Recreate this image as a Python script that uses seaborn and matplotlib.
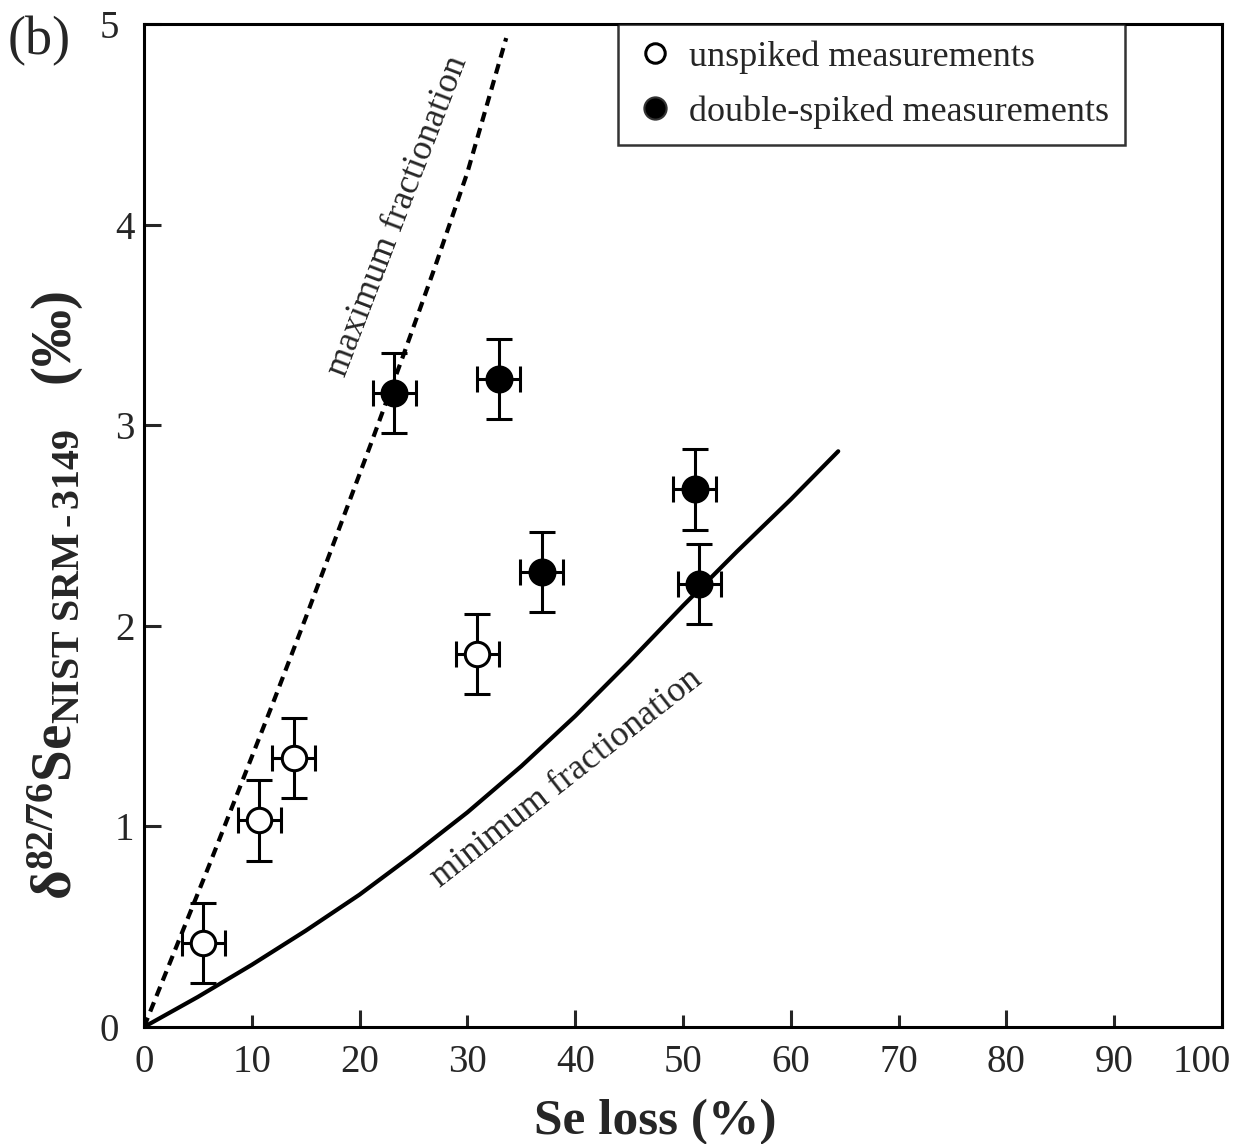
import matplotlib
matplotlib.use("Agg")
import matplotlib.pyplot as plt
import matplotlib.transforms as mtransforms
from matplotlib.lines import Line2D
import seaborn as sns
import pandas as pd

# measured points (Se loss %, delta per mil)
unspiked_loss = [5.5, 10.7, 13.9, 30.9]
unspiked_delta = [0.42, 1.03, 1.34, 1.86]
spiked_loss = [23.2, 32.9, 36.9, 51.1, 51.5]
spiked_delta = [3.16, 3.23, 2.27, 2.68, 2.21]
err_loss = 2.0
err_delta = 0.2

# model curves
max_loss = [0, 3, 6, 9, 12, 15, 18, 21, 24, 27, 30, 33.6]
max_delta = [0, 0.40, 0.80, 1.21, 1.62, 2.04, 2.47, 2.90, 3.34, 3.79, 4.26, 4.93]
min_loss = [0, 5, 10, 15, 20, 25, 30, 35, 40, 45, 50, 55, 60, 64.4]
min_delta = [0, 0.15, 0.31, 0.48, 0.66, 0.86, 1.07, 1.30, 1.55, 1.82, 2.10, 2.37, 2.63, 2.87]

x_major = [0, 20, 40, 60, 80, 100]
x_minor = [10, 30, 50, 70, 90]
y_ticks = [0, 1, 2, 3, 4, 5]

sns.set_style("ticks")
plt.rcParams["font.family"] = ["Liberation Serif", "DejaVu Serif"]
plt.rcParams["mathtext.fontset"] = "custom"
plt.rcParams["mathtext.rm"] = "Liberation Serif"
plt.rcParams["mathtext.it"] = "Liberation Serif:italic"
plt.rcParams["mathtext.bf"] = "Liberation Serif:bold"

fig = plt.figure(figsize=(12.34, 11.44), dpi=100)
ax = fig.add_axes([144 / 1234, 117 / 1144, 1078 / 1234, 1003 / 1144])

df_max = pd.DataFrame({"loss": max_loss, "delta": max_delta})
df_min = pd.DataFrame({"loss": min_loss, "delta": min_delta})
sns.lineplot(data=df_max, x="loss", y="delta", ax=ax, color="black", linewidth=3,
             linestyle=(0, (2.4, 1.6)), estimator=None, sort=False, zorder=2)
sns.lineplot(data=df_min, x="loss", y="delta", ax=ax, color="black", linewidth=3,
             estimator=None, sort=False, zorder=2)

for xs, ys in [(unspiked_loss, unspiked_delta), (spiked_loss, spiked_delta)]:
    ax.errorbar(xs, ys, xerr=err_loss, yerr=err_delta, fmt="none", ecolor="black",
                elinewidth=2.2, capsize=9.5, capthick=2.2, zorder=3)

sns.scatterplot(x=unspiked_loss, y=unspiked_delta, ax=ax, s=310, color="white",
                edgecolor="black", linewidth=2.2, zorder=5, legend=False)
sns.scatterplot(x=spiked_loss, y=spiked_delta, ax=ax, s=330, color="black",
                edgecolor="black", linewidth=2.0, zorder=5, legend=False)

ax.text(23.6, 4.04, "maximum fractionation", rotation=69, rotation_mode="anchor",
        ha="center", va="center", fontsize=26)
ax.text(39.2, 1.24, "minimum fractionation", rotation=38, rotation_mode="anchor",
        ha="center", va="center", fontsize=26)

ax.set_xlim(0, 100)
ax.set_ylim(0, 5)
ax.set_xticks(x_major)
ax.set_xticks(x_minor, minor=True)
ax.set_xticklabels([str(v) for v in x_major])
ax.set_xticklabels([str(v) for v in x_minor], minor=True)
ax.set_yticks(y_ticks)
ax.set_yticklabels([str(v) for v in y_ticks])
ax.tick_params(axis="x", which="major", direction="in", length=12, width=2.2,
               labelsize=28, pad=12)
ax.tick_params(axis="x", which="minor", direction="in", length=8.5, width=2.2,
               labelsize=28, pad=12)
ax.tick_params(axis="y", direction="in", length=12, width=2.2, labelsize=28, pad=7)
for sp in ax.spines.values():
    sp.set_linewidth(2.2)
    sp.set_color("black")

# the end labels sit a little further out, as in the original
shift_left = mtransforms.ScaledTranslation(-15 / 100, 0, fig.dpi_scale_trans)
ylabels = ax.get_yticklabels()
for i in (0, len(ylabels) - 1):
    ylabels[i].set_transform(ylabels[i].get_transform() + shift_left)
last_x = ax.get_xticklabels()[-1]
last_x.set_transform(last_x.get_transform() +
                     mtransforms.ScaledTranslation(-20 / 100, 0, fig.dpi_scale_trans))

ax.set_xlabel("Se loss (%)", fontsize=37, fontweight="bold")
ax.xaxis.set_label_coords((655 - 144) / 1078, -0.072)
ax.set_ylabel(r"$\mathbf{\delta^{82/76}Se_{NIST\ SRM\,\text{-}\,3149}}$   (‰)",
              fontsize=41, fontweight="bold")
ax.yaxis.set_label_coords(-0.054, 0.43)

handles = [
    Line2D([], [], marker="o", linestyle="none", markersize=14, markerfacecolor="white",
           markeredgecolor="black", markeredgewidth=2.2),
    Line2D([], [], marker="o", linestyle="none", markersize=16, markerfacecolor="black",
           markeredgecolor="#333333", markeredgewidth=1.5),
]
leg = ax.legend(handles, ["unspiked measurements", "double-spiked measurements"],
                loc="upper left", bbox_to_anchor=(0.44, 1.0), borderaxespad=0,
                fontsize=26, frameon=True, fancybox=False, handlelength=1.15,
                handletextpad=0.35, borderpad=0.45, labelspacing=0.6)
leg.get_frame().set_edgecolor("black")
leg.get_frame().set_linewidth(1.8)

fig.text(8 / 1234, 1 - 16 / 1144, "(b)", fontsize=39, ha="left", va="top")

fig.savefig("out.png", dpi=100)
